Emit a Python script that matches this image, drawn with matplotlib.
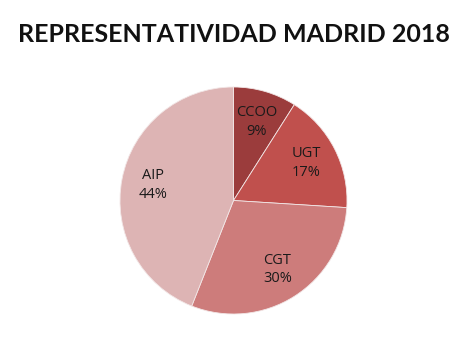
import math
import matplotlib
matplotlib.use("Agg")
import matplotlib.pyplot as plt

categories = ["CCOO", "UGT", "CGT", "AIP"]
values = [9, 17, 30, 44]
colors = ["#9b3c3c", "#c0504d", "#cd7c7b", "#ddb4b4"]
title = "REPRESENTATIVIDAD MADRID 2018"

W, H = 473, 356
fig = plt.figure(figsize=(W / 100, H / 100), dpi=100)
fig.patch.set_facecolor("white")

cx, cy, r = 233.5, 200.5, 113.5
ax = fig.add_axes([(cx - r) / W, (H - cy - r) / H, 2 * r / W, 2 * r / H])

wedges, texts = ax.pie(values, colors=colors, startangle=90, counterclock=False,
                       radius=1.0,
                       wedgeprops=dict(edgecolor="#f2e6e6", linewidth=0.6))
for w, name, v in zip(wedges, categories, values):
    ang = math.radians((w.theta1 + w.theta2) / 2)
    d = 0.72
    ax.text(d * math.cos(ang), d * math.sin(ang), f"{name}\n{v}%",
            ha="center", va="center", fontsize=10.5, color="#1a1a1a",
            family=["Open Sans", "DejaVu Sans"], linespacing=1.35)
ax.set_xlim(-1, 1)
ax.set_ylim(-1, 1)
ax.set_aspect("equal")
ax.axis("off")

fig.text(233.5 / W, 1 - 34 / H, title, ha="center", va="center",
         fontsize=18, fontweight="bold", family=["Lato", "DejaVu Sans"], color="#111111")

fig.savefig("out.png", dpi=100)
